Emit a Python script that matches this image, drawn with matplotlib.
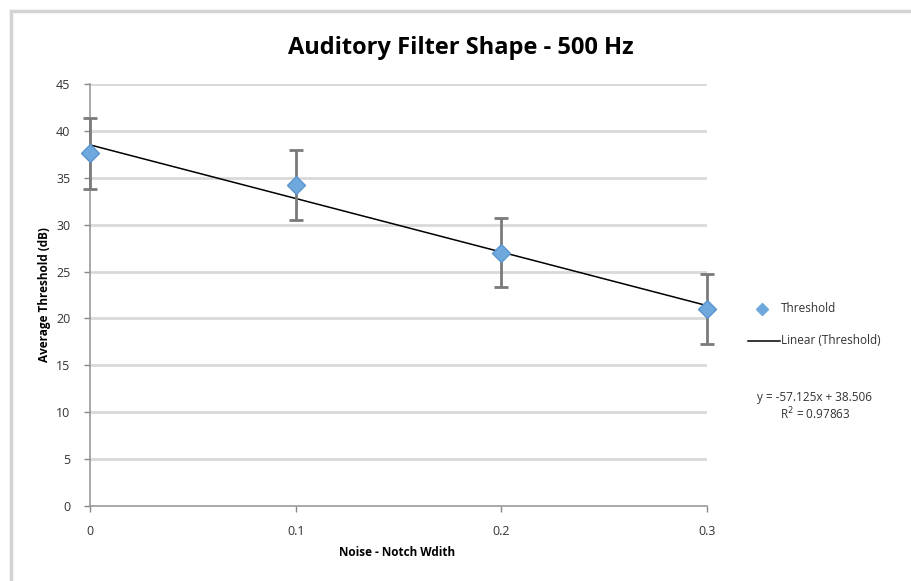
import numpy as np
from matplotlib import pyplot as plt
from matplotlib.lines import Line2D
from matplotlib.patches import Rectangle

# data
notch_width = [0.0, 0.1, 0.2, 0.3]
threshold = [37.6, 34.2, 27.0, 21.0]
threshold_err = [3.75, 3.75, 3.7, 3.75]
fit_slope = -57.125
fit_intercept = 38.506
fit_r2 = 0.97863
y_ticks = [0, 5, 10, 15, 20, 25, 30, 35, 40, 45]
x_ticks = [0, 0.1, 0.2, 0.3]

plt.rcParams['font.family'] = ['Open Sans', 'DejaVu Sans']

fig = plt.figure(figsize=(9.12, 5.81), dpi=100)
ax = fig.add_axes([90 / 912, 1 - 506 / 581, 617 / 912, 422 / 581])

# chart border (left, top, bottom)
fig.patches.append(Rectangle((11 / 912, -0.01), 1.2, 1 - 11 / 581 + 0.01,
                             transform=fig.transFigure, fill=False,
                             edgecolor='#d3d3d3', linewidth=2.5))

for yt in y_ticks[1:]:
    ax.axhline(yt, color='#d9d9d9', linewidth=2, zorder=0)

xs = np.array([0, 0.3])
ax.plot(xs, fit_slope * xs + fit_intercept, color='black', linewidth=1.1,
        zorder=2)
eb = ax.errorbar(notch_width, threshold, yerr=threshold_err, fmt='none',
                 ecolor='#7a7a7a', elinewidth=2, capsize=5, capthick=2,
                 zorder=3)
for artist in eb.lines[1] + eb.lines[2]:
    artist.set_clip_on(False)
ax.plot(notch_width, threshold, linestyle='none', marker='D', markersize=9,
        color='#6fa8dc', markeredgecolor='#5b95cf', zorder=4, clip_on=False)

ax.set_xlim(0, 0.3)
ax.set_ylim(0, 45)
ax.set_xticks(x_ticks)
ax.set_xticklabels(['0', '0.1', '0.2', '0.3'])
ax.set_yticks(y_ticks)
ax.tick_params(axis='both', labelsize=9, colors='#888888', labelcolor='#333333',
               length=4, width=1)
ax.tick_params(axis='x', pad=10)
ax.tick_params(axis='y', pad=10)
for side in ['top', 'right']:
    ax.spines[side].set_visible(False)
for side in ['left', 'bottom']:
    ax.spines[side].set_color('#999999')
    ax.spines[side].set_linewidth(1.2)

fig.text(461 / 912, 1 - 48 / 581, 'Auditory Filter Shape - 500 Hz',
         ha='center', va='center', fontsize=17, fontweight='bold')
fig.text(397 / 912, 1 - 552 / 581, 'Noise - Notch Wdith', ha='center',
         va='center', fontsize=8.5, fontweight='bold')
fig.text(45 / 912, 1 - 295 / 581, 'Average Threshold (dB)', ha='center',
         va='center', rotation=90, fontsize=8.5, fontweight='bold')

# legend
fig.lines.append(Line2D([762 / 912], [1 - 309 / 581], transform=fig.transFigure,
                        marker='D', markersize=6, color='#6fa8dc',
                        linestyle='none'))
fig.text(781 / 912, 1 - 309 / 581, 'Threshold', va='center', fontsize=8.5,
         color='#333333')
fig.lines.append(Line2D([748 / 912, 780 / 912], [1 - 341 / 581, 1 - 341 / 581],
                        transform=fig.transFigure, color='black',
                        linewidth=1.1))
fig.text(781 / 912, 1 - 341 / 581, 'Linear (Threshold)', va='center',
         fontsize=8.5, color='#333333')
fig.text(815 / 912, 1 - 397 / 581,
         'y = {:.3f}x + {:.3f}'.format(fit_slope, fit_intercept),
         ha='center', va='center', fontsize=8.5, color='#333333')
fig.text(815 / 912, 1 - 414 / 581, 'R$^2$ = {:.5f}'.format(fit_r2),
         ha='center', va='center', fontsize=8.5, color='#333333')

fig.savefig('out.png', dpi=100, facecolor='white')
